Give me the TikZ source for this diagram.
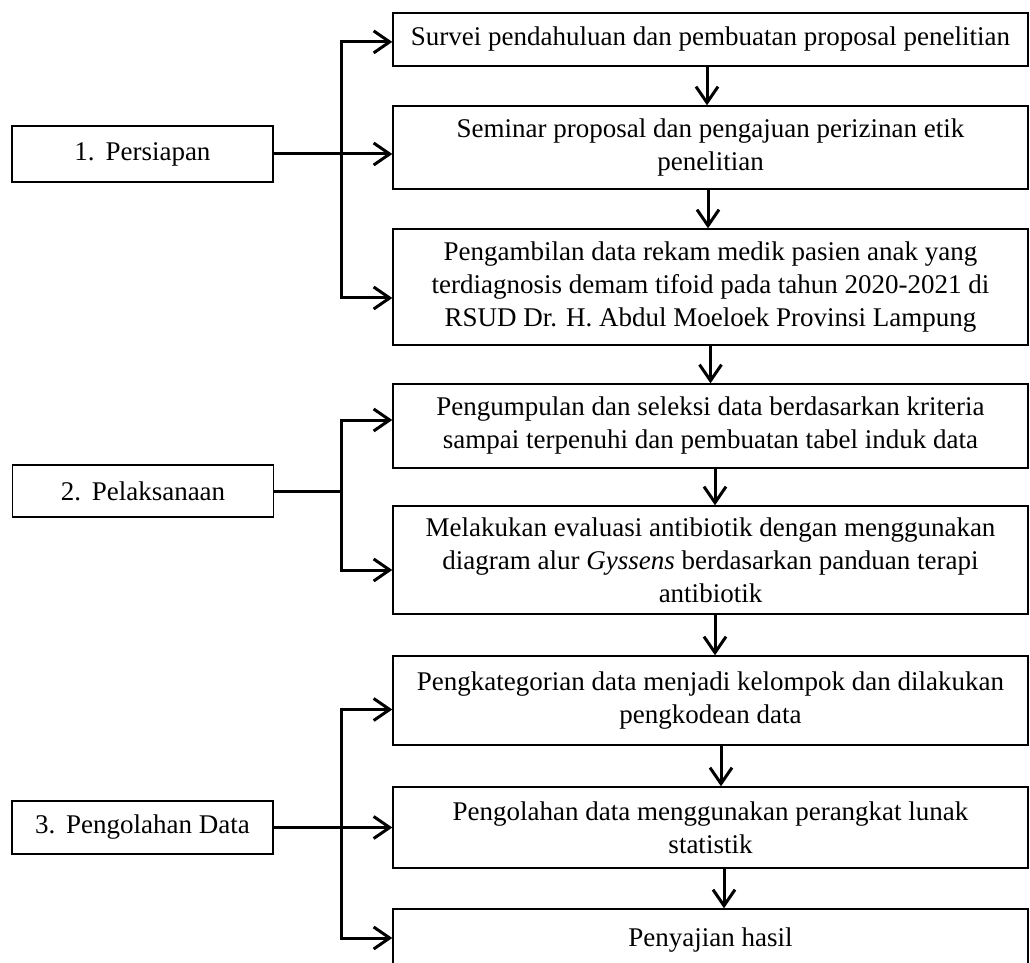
\documentclass[tikz,border=0pt]{standalone}
\usepackage{fontspec}
\setmainfont{Liberation Serif}
\usetikzlibrary{arrows.meta, positioning, calc}

\begin{document}
\begin{tikzpicture}[x=0.5pt, y=-0.5pt,
  stepbox/.style={draw, line width=0.7pt, minimum width=317.5pt, align=center, inner sep=0pt,
    font=\fontsize{13.5}{16.5}\selectfont},
  phasebox/.style={draw, line width=0.7pt, minimum width=130.5pt, inner sep=0pt,
    font=\fontsize{13.5}{16.5}\selectfont},
  link/.style={line width=1.5pt, -{Straight Barb[length=8pt, width=11pt, line width=1.5pt]}},
  trunk/.style={line width=1.5pt}]
  \clip (0,0) rectangle (1030,963);

  % stages
  \node[phasebox, minimum height=28pt] (p1) at (142.5,154) {1.\hspace{0.4em}Persiapan};
  \node[phasebox, minimum height=26pt] (p2) at (143,491) {2.\hspace{0.4em}Pelaksanaan};
  \node[phasebox, minimum height=26.5pt] (p3) at (142.5,827.5) {3.\hspace{0.4em}Pengolahan Data};

  % steps
  \node[stepbox, minimum height=26.5pt] (b1) at (710.5,39.5) {Survei pendahuluan dan pembuatan proposal penelitian};
  \node[stepbox, minimum height=41.5pt] (b2) at (710.5,147.5) {Seminar proposal dan pengajuan perizinan etik\\penelitian};
  \node[stepbox, minimum height=58pt] (b3) at (710.5,287) {Pengambilan data rekam medik pasien anak yang\\terdiagnosis demam tifoid pada tahun 2020-2021 di\\RSUD Dr. H. Abdul Moeloek Provinsi Lampung};
  \node[stepbox, minimum height=42pt] (b4) at (710.5,426) {Pengumpulan dan seleksi data berdasarkan kriteria\\sampai terpenuhi dan pembuatan tabel induk data};
  \node[stepbox, minimum height=54pt] (b5) at (710.5,560) {Melakukan evaluasi antibiotik dengan menggunakan\\diagram alur \textit{Gyssens} berdasarkan panduan terapi\\antibiotik};
  \node[stepbox, minimum height=44.5pt] (b6) at (710.5,700.5) {Pengkategorian data menjadi kelompok dan dilakukan\\pengkodean data};
  \node[stepbox, minimum height=40.5pt] (b7) at (710.5,827.5) {Pengolahan data menggunakan perangkat lunak\\statistik};
  \node[stepbox, minimum height=31pt] (b8) at (710.5,940) {Penyajian hasil};

  % stage 1
  \path (p1.east) ++(68,0) coordinate (j1);
  \draw[link] (p1.east) -- (p1.east -| b2.west);
  \draw[link] (j1) |- ([yshift=-1.2pt]b1.west);
  \draw[link] (j1) |- ([yshift=-5.5pt]b3.west);

  % stage 2
  \path (p2.east) ++(67,0) coordinate (j2);
  \draw[trunk] (p2.east) -- (j2);
  \draw[link] (j2) |- ([yshift=3pt]b4.west);
  \draw[link] (j2) |- ([yshift=-5pt]b5.west);

  % stage 3
  \path (p3.east) ++(68,0) coordinate (j3);
  \draw[link] (p3.east) -- (p3.east -| b7.west);
  \draw[link] (j3) |- ([yshift=-4.5pt]b6.west);
  \draw[link] (j3) |- ([yshift=1pt]b8.west);

  % flow between steps
  \foreach \a/\b/\dx in {b1/b2/-1.75, b2/b3/-1.25, b3/b4/0, b4/b5/2.25, b5/b6/2.25, b6/b7/5.25, b7/b8/6.75}
    \draw[link] ([xshift=\dx pt]\a.south) -- ([xshift=\dx pt]\b.north);
\end{tikzpicture}
\end{document}
